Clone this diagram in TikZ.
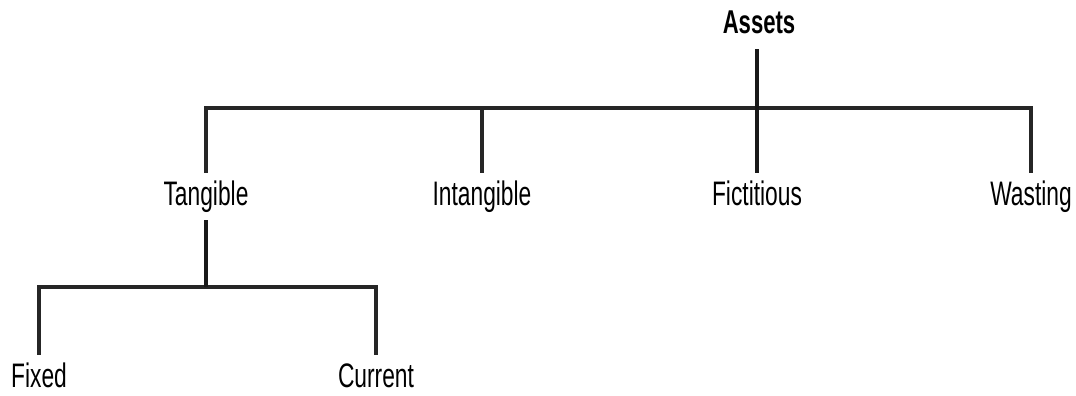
\documentclass[tikz,border=0pt]{standalone}
\usepackage{fontspec}
\setmainfont{Liberation Sans}[FakeStretch=0.67]
\tikzset{
  lbl/.style={anchor=base,inner xsep=2pt,inner ysep=8pt,text height=24pt,text depth=7pt,font=\fontsize{34}{38}\selectfont},
  conn/.style={draw=black!85,line width=3.2pt},
  trunk/.style={draw=black!90,line width=4.4pt}
}
\begin{document}
\begin{tikzpicture}[x=1pt,y=-1pt]
      \useasboundingbox (0,0) rectangle (1076,396);
      \coordinate (topbar) at (0,108);
      \coordinate (lowbar) at (0,287);
      \node[lbl,font=\fontsize{33}{36}\selectfont\bfseries] (assets) at (759,34) {Assets};
      \node[lbl] (tangible) at (206,205) {Tangible};
      \node[lbl] (intangible) at (482,205) {Intangible};
      \node[lbl] (fictitious) at (757,205) {Fictitious};
      \node[lbl] (wasting) at (1031,205) {Wasting};
      \node[lbl] (fixed) at (39,387) {Fixed};
      \node[lbl] (current) at (376,387) {Current};
      \begin{scope}[conn]
        \draw (tangible.north) -- (tangible.north |- topbar) -- (wasting.north |- topbar) -- (wasting.north);
        \draw (intangible.north) -- (intangible.north |- topbar);
        \draw (fixed.north) -- (fixed.north |- lowbar) -- (current.north |- lowbar) -- (current.north);
      \end{scope}
      \begin{scope}[trunk]
        \draw (assets.south -| fictitious.north) -- (fictitious.north);
        \draw (tangible.south) -- (tangible.south |- lowbar);
      \end{scope}
    \end{tikzpicture}
\end{document}
